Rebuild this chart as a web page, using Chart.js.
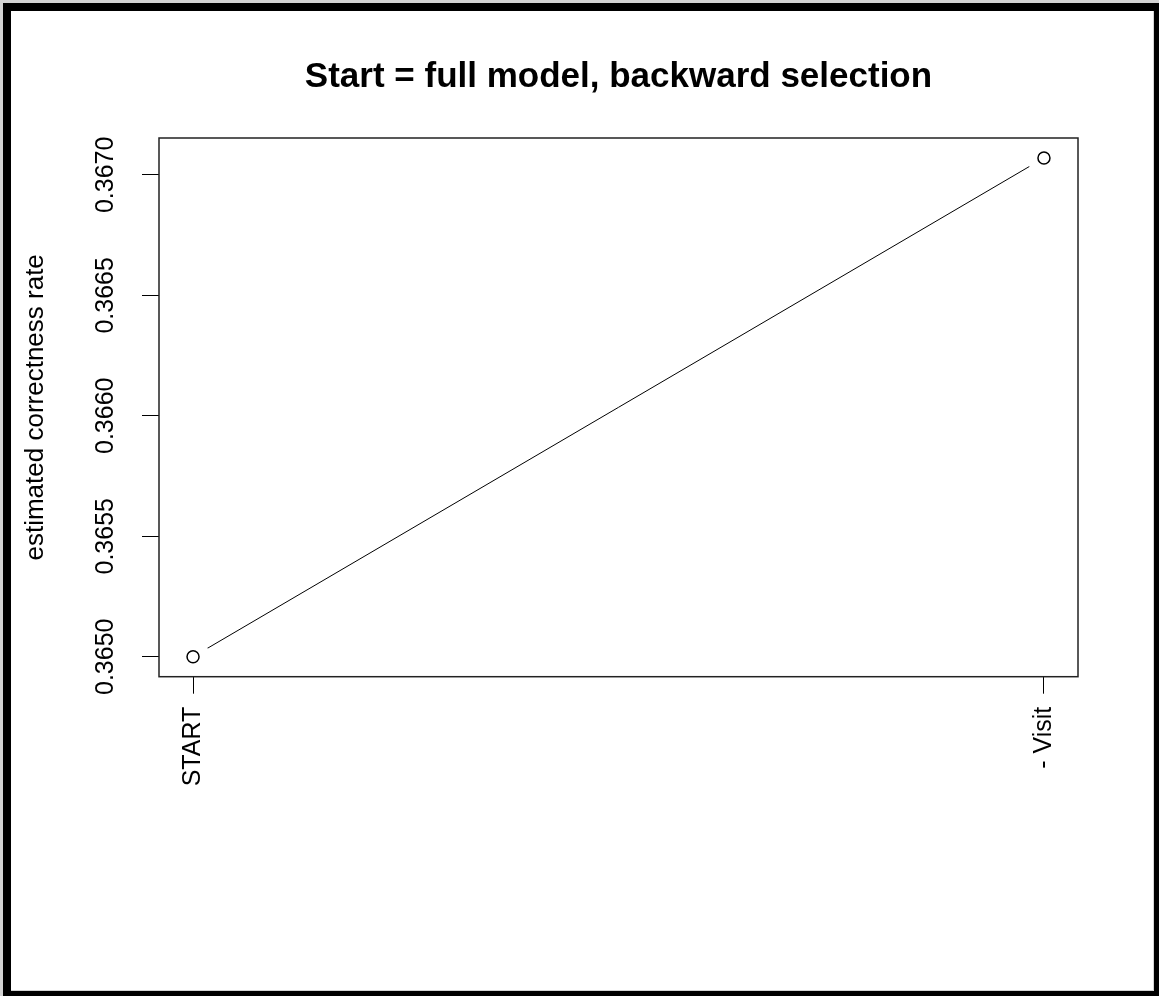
<!DOCTYPE html>
<html>
<head>
<meta charset="utf-8">
<script src="https://cdn.jsdelivr.net/npm/chart.js@4"></script>
<style>
  html, body { margin: 0; padding: 0; background: #fff; }
  canvas { display: block; }
</style>
</head>
<body>
<canvas id="chart" width="1159" height="996"></canvas>
<script>
// Selection steps and estimated correctness rate at each step
const steps = ['START', '- Visit'];
const rates = [0.3650, 0.36707];
const rateTicks = [0.3650, 0.3655, 0.3660, 0.3665, 0.3670];
const chartTitle = 'Start = full model, backward selection';
const yTitle = 'estimated correctness rate';

const FONT = '"Liberation Sans", Arial, sans-serif';

// R-style axis limits: data range extended by 4% on each side
function paddedRange(vals) {
  const lo = Math.min(...vals), hi = Math.max(...vals);
  const pad = (hi - lo) * 0.04;
  return [lo - pad, hi + pad];
}
const [yMin, yMax] = paddedRange(rates);
const xIdx = steps.map((_, i) => i + 1);
const [xMin, xMax] = paddedRange(xIdx);

const points = steps.map((s, i) => ({ x: xIdx[i], y: rates[i] }));

// Page frame, plot box, and main title centred over the plot region
const framePlugin = {
  id: 'frame',
  afterLayout(chart) {
    const a = chart.chartArea;
    if (chart.titleBlock) {
      chart.titleBlock.left = a.left;
      chart.titleBlock.right = a.right;
    }
  },
  beforeDraw(chart) {
    const c = chart.ctx;
    c.save();
    c.fillStyle = '#fff';
    c.fillRect(0, 0, chart.width, chart.height);
    c.restore();
  },
  afterDraw(chart) {
    const c = chart.ctx;
    const a = chart.chartArea;
    const W = chart.width, H = chart.height;
    c.save();
    c.strokeStyle = '#222';
    c.lineWidth = 1.5;
    c.strokeRect(a.left, a.top, a.right - a.left, a.bottom - a.top);
    c.fillStyle = '#d4d4d4';
    c.fillRect(0, 0, W, 3);
    c.fillRect(0, 0, 3, H);
    c.fillRect(W - 6, 11, 1, H - 16);
    c.fillRect(11, H - 6, W - 16, 1);
    c.fillStyle = '#000';
    c.fillRect(3, 3, W - 3, 8);
    c.fillRect(3, 3, 8, H - 3);
    c.fillRect(W - 5, 3, 5, H - 3);
    c.fillRect(3, H - 5, W - 3, 5);
    c.restore();
  }
};

new Chart(document.getElementById('chart'), {
  type: 'scatter',
  data: {
    datasets: [
      {
        // open circles at each step
        data: points,
        order: 0,
        showLine: false,
        pointRadius: 6,
        pointBorderWidth: 1.5,
        pointBorderColor: '#000',
        pointBackgroundColor: 'rgba(0,0,0,0)'
      },
      {
        // connecting line, with a gap around each point (type = "b")
        data: points,
        order: 1,
        showLine: true,
        borderColor: '#000',
        borderWidth: 1,
        pointRadius: 17,
        pointBorderWidth: 0,
        pointBackgroundColor: '#fff'
      }
    ]
  },
  plugins: [framePlugin],
  options: {
    responsive: false,
    animation: false,
    devicePixelRatio: 1,
    events: [],
    layout: { padding: { left: 11, right: 81, top: 0, bottom: 11 } },
    plugins: {
      legend: { display: false },
      tooltip: { enabled: false },
      title: {
        display: true,
        text: chartTitle,
        color: '#000',
        font: { family: FONT, size: 35, weight: 'bold', lineHeight: 1.2 },
        padding: { top: 56, bottom: 40 }
      }
    },
    scales: {
      x: {
        type: 'linear',
        min: xMin,
        max: xMax,
        afterBuildTicks(scale) { scale.ticks = xIdx.map(v => ({ value: v })); },
        afterFit(scale) { scale.height = 996 - 11 - 676.7; },
        grid: { display: true, drawOnChartArea: false, drawTicks: true, tickLength: 17, color: '#000', lineWidth: 1 },
        border: { display: false },
        ticks: {
          minRotation: 90,
          maxRotation: 90,
          padding: 13,
          color: '#000',
          font: { family: FONT, size: 25 },
          callback: (v) => steps[Math.round(v) - 1]
        }
      },
      y: {
        type: 'linear',
        min: yMin,
        max: yMax,
        afterBuildTicks(scale) { scale.ticks = rateTicks.map(v => ({ value: v })); },
        afterFit(scale) { scale.width = 159 - 11; },
        grid: { display: true, drawOnChartArea: false, drawTicks: true, tickLength: 17, color: '#000', lineWidth: 1 },
        border: { display: false },
        title: {
          display: true,
          text: yTitle,
          color: '#000',
          font: { family: FONT, size: 26, lineHeight: 1.2 },
          padding: { top: 9, bottom: 0 }
        },
        ticks: {
          minRotation: 90,
          maxRotation: 90,
          crossAlign: 'center',
          padding: -2,
          color: '#000',
          font: { family: FONT, size: 25 },
          callback: (v) => v.toFixed(4)
        }
      }
    }
  }
});
</script>
</body>
</html>
